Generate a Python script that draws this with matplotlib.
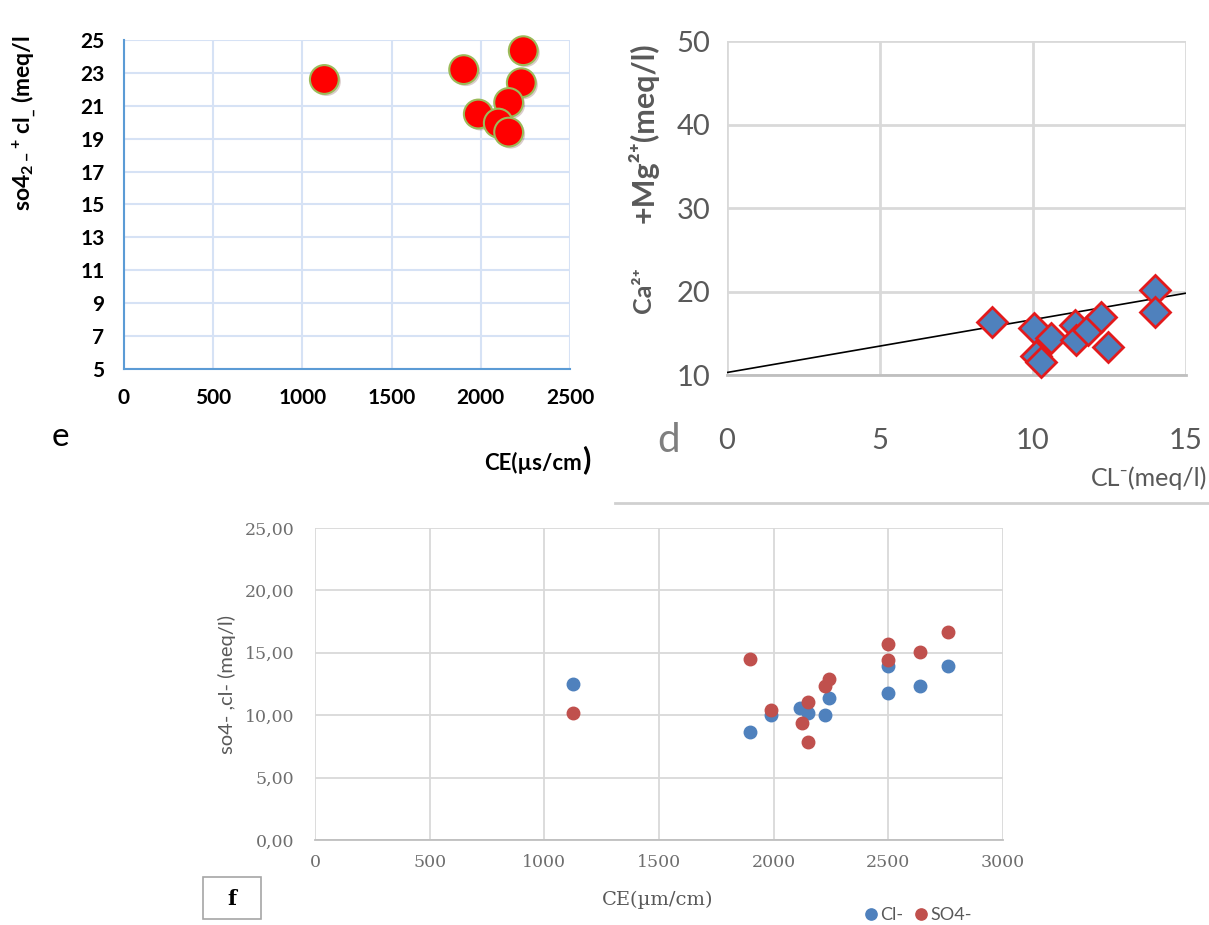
import matplotlib
matplotlib.use("Agg")
from matplotlib import pyplot as plt
from matplotlib import patheffects as pe
from matplotlib.patches import Rectangle
import numpy as np

plt.rcParams['font.family'] = ['Lato', 'DejaVu Sans']
plt.rcParams['mathtext.default'] = 'regular'

# panel e : CE vs so4 + cl
e_ce = [1123, 1904, 2238, 2227, 2156, 1986, 2098, 2156]
e_sum = [22.6, 23.2, 24.35, 22.4, 21.2, 20.5, 19.95, 19.4]

# panel d : Cl vs Ca + Mg
d_cl = [8.66, 10.02, 10.6, 10.1, 10.25, 11.36, 11.42, 11.81, 12.23, 12.45, 13.98, 13.98]
d_camg = [16.3, 15.6, 14.4, 12.3, 11.6, 16.0, 14.2, 15.4, 17.0, 13.4, 20.2, 17.6]
trend_x = [0, 15]
trend_y = [10.3, 19.8]

# panel f : CE vs Cl- and SO4-
f_ce_cl = [1125, 1898, 1989, 2117, 2151, 2224, 2243, 2498, 2498, 2640, 2760]
f_cl = [12.46, 8.66, 10.0, 10.56, 10.16, 10.0, 11.39, 13.96, 11.79, 12.33, 13.96]
f_ce_so4 = [1125, 1898, 1989, 2122, 2151, 2151, 2224, 2243, 2498, 2498, 2640, 2760]
f_so4 = [10.16, 14.47, 10.45, 9.41, 11.02, 7.86, 12.30, 12.89, 15.70, 14.41, 15.03, 16.63]

fig = plt.figure(figsize=(12.09, 9.25), dpi=100)
W, H = 1209.0, 925.0
serif = ['DejaVu Serif', 'Liberation Serif']

def box(l, t, r, b):
    return [l / W, 1 - b / H, (r - l) / W, (b - t) / H]

# ---------------- panel e
ax = fig.add_axes(box(124, 40, 570, 369))
ax.scatter(e_ce, e_sum, s=430, c='#ff0000', edgecolors='#9bbb59', linewidths=1.5,
           zorder=3, clip_on=False,
           path_effects=[pe.SimplePatchShadow(offset=(1.5, -1.5), alpha=0.2), pe.Normal()])
ax.set_xlim(0, 2500)
ax.set_ylim(5, 25)
ax.set_xticks(np.arange(0, 2501, 500))
ax.set_yticks(np.arange(5, 26, 2))
ax.grid(True, color='#d6e2f5', lw=1.5)
ax.set_axisbelow(True)
for s in ['top', 'right']:
    ax.spines[s].set_visible(False)
for s in ['left', 'bottom']:
    ax.spines[s].set_color('#5b9bd5')
    ax.spines[s].set_linewidth(1.5)
ax.tick_params(length=0, labelsize=15, pad=14)
for lab in ax.get_xticklabels() + ax.get_yticklabels():
    lab.set_fontweight('bold')
fig.text(24 / W, 1 - 211 / H, r"so4$_{2-}$$^{+}$ cl$_{\_}$ (meq/l)", rotation=90,
         ha='center', va='bottom', fontsize=16.5, fontweight='bold')
# the label runs past the top of its frame in the original
fig.add_artist(Rectangle((0, 1 - 36 / H), 60 / W, 36 / H, facecolor='white',
                         edgecolor='none', transform=fig.transFigure, zorder=5))
fig.text(60 / W, 1 - 437 / H, "e", fontsize=24, ha='center', va='center')
fig.text(582 / W, 1 - 463 / H, "CE(µs/cm", fontsize=16, fontweight='bold',
         ha='right', va='center')
fig.text(582 / W, 1 - 460 / H, ")", fontsize=22, fontweight='bold',
         ha='left', va='center')

# ---------------- panel d
ax = fig.add_axes(box(727, 41, 1186, 375))
ax.plot(trend_x, trend_y, color='black', lw=1.2, zorder=2)
ax.plot(d_cl, d_camg, linestyle='none', marker='D', ms=15, mfc='#4f81bd',
        mec='#e31a1c', mew=2, zorder=3, clip_on=False)
ax.set_xlim(0, 15)
ax.set_ylim(10, 50)
ax.set_xticks([0, 5, 10, 15])
ax.set_yticks([10, 20, 30, 40, 50])
ax.grid(True, color='#d9d9d9', lw=2)
ax.set_axisbelow(True)
for s in ['top', 'right', 'left']:
    ax.spines[s].set_visible(False)
ax.spines['bottom'].set_color('#bfbfbf')
ax.spines['bottom'].set_linewidth(2)
ax.tick_params(length=0, labelsize=21, labelcolor='#595959', pad=12)
ax.tick_params(axis='x', pad=38)
fig.text(643 / W, 1 - 313 / H, "Ca²⁺", rotation=90, ha='center',
         va='bottom', fontsize=18, fontweight='bold', color='#595959')
fig.text(643 / W, 1 - 223 / H, "+Mg²⁺(meq/l)", rotation=90, ha='center',
         va='bottom', fontsize=22, fontweight='bold', color='#595959')
fig.text(1207 / W, 1 - 478 / H, "CL⁻(meq/l)", fontsize=18, color='#595959',
         ha='right', va='center')
fig.text(669 / W, 1 - 440 / H, "d", fontsize=29, color='#7f7f7f',
         ha='center', va='center')
fig.add_artist(plt.Line2D([615 / W, 1.0], [1 - 503 / H, 1 - 503 / H],
                          color='#d0d0d0', lw=2))

# ---------------- panel f
ax = fig.add_axes(box(315, 528, 1003, 840))
ax.plot(f_ce_cl, f_cl, 'o', ms=9, color='#4f81bd', label='Cl-', zorder=3)
ax.plot(f_ce_so4, f_so4, 'o', ms=9, color='#c0504d', label='SO4-', zorder=3)
ax.set_xlim(0, 3000)
ax.set_ylim(0, 25)
ax.set_xticks(np.arange(0, 3001, 500))
ax.set_yticks(np.arange(0, 26, 5))
ax.set_yticklabels([f"{v:.2f}".replace('.', ',') for v in np.arange(0, 26, 5)])
ax.grid(True, color='#d9d9d9', lw=1.3)
ax.set_axisbelow(True)
for s in ['top', 'right', 'left']:
    ax.spines[s].set_visible(False)
ax.spines['bottom'].set_color('#bfbfbf')
ax.spines['bottom'].set_linewidth(1.3)
ax.tick_params(length=0, labelsize=12.5, labelcolor='#6e6e6e', pad=10)
ax.tick_params(axis='y', pad=15)
for lab in ax.get_xticklabels() + ax.get_yticklabels():
    lab.set_family(serif)
ax.set_ylabel("so4- ,cl- (meq/l)", fontsize=14.5, color='#595959', labelpad=6)
fig.text(658 / W, 1 - 900 / H, "CE(µm/cm)", fontsize=14, color='#595959',
         ha='center', va='center', family=serif)
leg = fig.legend(loc='center', bbox_to_anchor=(917 / W, 1 - 915 / H), ncol=2,
                 frameon=False, fontsize=13, handletextpad=0.0, columnspacing=0.5,
                 handlelength=1.0, markerscale=0.9)
for t in leg.get_texts():
    t.set_color('#595959')
fig.add_artist(Rectangle((203 / W, 1 - 919 / H), 58 / W, 42 / H, fill=False,
                         edgecolor='#a6a6a6', lw=1.2, transform=fig.transFigure))
fig.text(232 / W, 1 - 899 / H, "f", fontsize=15, fontweight='bold', ha='center',
         va='center', family=serif)

fig.savefig("out.png", dpi=100)
